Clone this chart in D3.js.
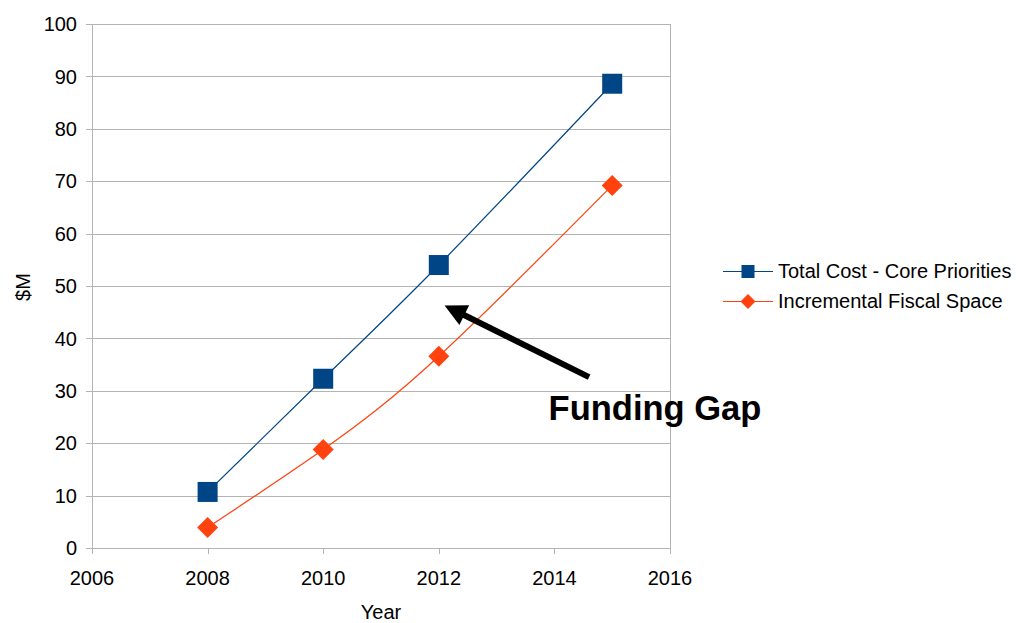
<!DOCTYPE html>
<html>
<head>
<meta charset="utf-8">
<script src="https://cdn.jsdelivr.net/npm/d3@7"></script>
<style>
  html, body { margin: 0; padding: 0; background: #fff; }
  svg { display: block; font-family: "Liberation Sans", Arial, sans-serif; }
</style>
</head>
<body>
<svg id="chart" width="1016" height="623"></svg>
<script>
// ---- data ----
const years = [2008, 2010, 2012, 2015];
const totalCost = [10.7, 32.3, 54.0, 88.6];
const fiscalSpace = [3.9, 18.8, 36.6, 69.2];
const seriesNames = ["Total Cost - Core Priorities", "Incremental Fiscal Space"];
const xTicks = [2006, 2008, 2010, 2012, 2014, 2016];
const yTicks = [0, 10, 20, 30, 40, 50, 60, 70, 80, 90, 100];
const annotationText = "Funding Gap";
const arrowFrom = [2014.6, 32.6];   // [year, $M]
const arrowTo = [2012.1, 46.3];
const labelAt = [2013.9, 24.5];

// ---- layout ----
const W = 1016, H = 623;
const plot = { left: 92, right: 670, top: 24, bottom: 548 };
const colors = ["#004586", "#ff420e"];
const gridColor = "#b3b3b3";
const fs = 20;

const svg = d3.select("#chart");
const x = d3.scaleLinear().domain([2006, 2016]).range([plot.left, plot.right]);
const y = d3.scaleLinear().domain([0, 100]).range([plot.bottom, plot.top]);

const crisp = v => Math.round(v) + 0.5;

// gridlines
svg.append("g").selectAll("line").data(yTicks).join("line")
  .attr("x1", plot.left - 6).attr("x2", plot.right)
  .attr("y1", d => crisp(y(d))).attr("y2", d => crisp(y(d)))
  .attr("stroke", gridColor).attr("stroke-width", 1);

// vertical frame lines
svg.append("line").attr("x1", crisp(plot.left)).attr("x2", crisp(plot.left))
  .attr("y1", plot.top).attr("y2", plot.bottom + 6).attr("stroke", gridColor);
svg.append("line").attr("x1", crisp(plot.right)).attr("x2", crisp(plot.right))
  .attr("y1", plot.top).attr("y2", plot.bottom + 6).attr("stroke", gridColor);

// x ticks
svg.append("g").selectAll("line").data(xTicks).join("line")
  .attr("x1", d => crisp(x(d))).attr("x2", d => crisp(x(d)))
  .attr("y1", plot.bottom).attr("y2", plot.bottom + 6)
  .attr("stroke", gridColor);

// tick labels
svg.append("g").selectAll("text").data(yTicks).join("text")
  .attr("x", 77).attr("y", d => y(d)).attr("dy", "0.36em")
  .attr("text-anchor", "end").attr("font-size", fs).attr("fill", "#000")
  .text(d => d);
svg.append("g").selectAll("text").data(xTicks).join("text")
  .attr("x", d => x(d)).attr("y", 585)
  .attr("text-anchor", "middle").attr("font-size", fs).attr("fill", "#000")
  .text(d => d);

// axis titles
svg.append("text").attr("x", (plot.left + plot.right) / 2).attr("y", 619)
  .attr("text-anchor", "middle").attr("font-size", fs).text("Year");
svg.append("text").attr("transform", "translate(30,287) rotate(-90)")
  .attr("text-anchor", "middle").attr("font-size", fs).text("$M");

// lines
const series = [totalCost, fiscalSpace];
const line = d3.line().x(d => x(d[0])).y(d => y(d[1])).curve(d3.curveNatural);
series.forEach((vals, i) => {
  const pts = years.map((yr, j) => [yr, vals[j]]);
  svg.append("path").attr("d", line(pts)).attr("fill", "none")
    .attr("stroke", colors[i]).attr("stroke-width", 1.2);
});

// markers
const sq = 20, dm = 21;
function square(g, cx, cy, s, c) {
  g.append("rect").attr("x", cx - s / 2).attr("y", cy - s / 2)
    .attr("width", s).attr("height", s).attr("fill", c);
}
function diamond(g, cx, cy, s, c) {
  const h = s / 2;
  g.append("path").attr("d", `M${cx},${cy - h}L${cx + h},${cy}L${cx},${cy + h}L${cx - h},${cy}Z`)
    .attr("fill", c);
}
const mg = svg.append("g");
years.forEach((yr, j) => square(mg, x(yr), y(totalCost[j]), sq, colors[0]));
years.forEach((yr, j) => diamond(mg, x(yr), y(fiscalSpace[j]), dm, colors[1]));

// legend
const leg = svg.append("g");
const legY = [271, 301];
seriesNames.forEach((name, i) => {
  leg.append("line").attr("x1", 723).attr("x2", 773)
    .attr("y1", legY[i] + 0.5).attr("y2", legY[i] + 0.5)
    .attr("stroke", colors[i]).attr("stroke-width", 1.2);
  if (i === 0) square(leg, 748, legY[i] + 0.5, 13, colors[0]);
  else diamond(leg, 748, legY[i] + 0.5, 15, colors[1]);
  leg.append("text").attr("x", 778).attr("y", legY[i]).attr("dy", "0.36em")
    .attr("font-size", fs).text(name);
});

// annotation arrow
const ax1 = x(arrowFrom[0]), ay1 = y(arrowFrom[1]);
const ax2 = x(arrowTo[0]), ay2 = y(arrowTo[1]);
const ang = Math.atan2(ay2 - ay1, ax2 - ax1);
const headLen = 22, headW = 11;
const bx = ax2 - headLen * Math.cos(ang), by = ay2 - headLen * Math.sin(ang);
svg.append("line").attr("x1", ax1).attr("y1", ay1)
  .attr("x2", bx + 2 * Math.cos(ang)).attr("y2", by + 2 * Math.sin(ang))
  .attr("stroke", "#000").attr("stroke-width", 6);
const px = -Math.sin(ang), py = Math.cos(ang);
svg.append("path")
  .attr("d", `M${ax2},${ay2}L${bx + headW * px},${by + headW * py}L${bx - headW * px},${by - headW * py}Z`)
  .attr("fill", "#000");

svg.append("text").attr("x", x(labelAt[0])).attr("y", y(labelAt[1]))
  .attr("font-size", 34.5).attr("font-weight", "bold").text(annotationText);
</script>
</body>
</html>
